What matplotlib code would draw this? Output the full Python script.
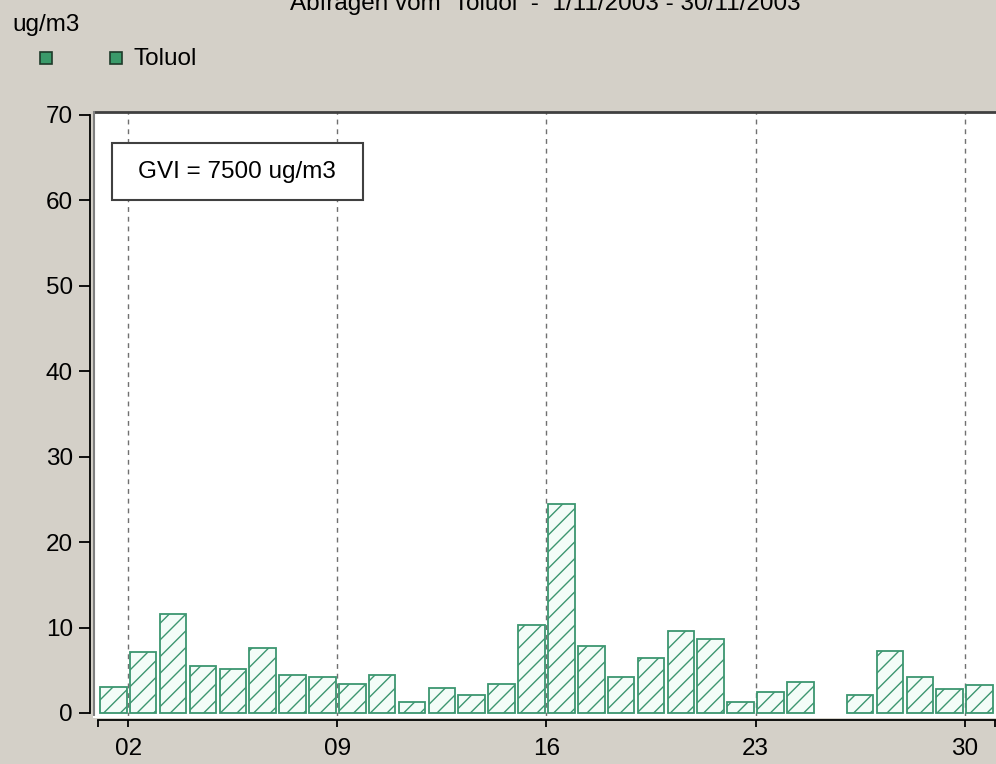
import numpy as np
import matplotlib.pyplot as plt
from matplotlib.patches import Rectangle
from matplotlib.lines import Line2D

plt.rcParams['font.family'] = ['Liberation Sans', 'DejaVu Sans']
plt.rcParams['hatch.linewidth'] = 1.0

# daily values, november 2003 (day 25 has no data)
days = np.arange(1, 31)
toluol = [3.1, 7.1, 11.6, 5.45, 5.2, 7.6, 4.5, 4.25, 3.35, 4.5,
          1.25, 2.9, 2.15, 3.35, 10.35, 24.5, 7.8, 4.25, 6.4, 9.65,
          8.7, 1.25, 2.4, 3.6, np.nan, 2.15, 7.3, 4.25, 2.85, 3.3]
series_name = "Toluol"
unit = "ug/m3"
title = "Abfragen vom  Toluol  -  1/11/2003 - 30/11/2003"
gvi_text = "GVI = 7500 ug/m3"
week_ticks = [2, 9, 16, 23, 30]
week_labels = ["02", "09", "16", "23", "30"]
y_ticks = [0, 10, 20, 30, 40, 50, 60, 70]

bg = '#D4D0C8'
green = '#3C9670'
W, H = 996, 764
fs = 17.5

fig = plt.figure(figsize=(W/100, H/100), dpi=100, facecolor=bg)
ax = fig.add_axes([94/W, 47/H, 902/W, 605/H])
ax.set_facecolor('white')

vals = np.array(toluol, dtype=float)
ok = ~np.isnan(vals)
ax.bar(days[ok] + 0.5, vals[ok], width=0.89, facecolor='#F3FCF8',
       edgecolor=green, linewidth=1.3, hatch='//', zorder=3)

ax.set_xlim(0.853, 31.05)
ax.set_ylim(-0.47, 70.35)

# weekly dashed grid
ax.set_xticks(week_ticks)
ax.set_xticklabels(week_labels)
ax.set_xticks([1, 31], minor=True)
ax.grid(axis='x', which='major', color='#707070', linestyle=(0, (3.5, 3.5)),
        linewidth=1.0, zorder=1)
ax.set_yticks(y_ticks)

for s in ['top', 'right']:
    ax.spines[s].set_visible(False)
ax.spines['left'].set_position(('outward', 3))
ax.spines['bottom'].set_position(('outward', 2.2))
ax.spines['left'].set_bounds(0, 70)
ax.spines['bottom'].set_bounds(1, 31.05)
for s in ['left', 'bottom']:
    ax.spines[s].set_linewidth(1.3)
    ax.spines[s].set_color('black')

ax.tick_params(axis='y', length=8, width=1.3, pad=4.3, labelsize=fs)
ax.tick_params(axis='x', which='both', length=5, width=1.3, pad=8,
               labelsize=fs)

# sunken frame of the plot area
ax.add_line(Line2D([0, 1], [1, 1], transform=ax.transAxes, color='#404040',
                   linewidth=2, clip_on=False, zorder=5))
ax.add_line(Line2D([0, 0], [0, 1], transform=ax.transAxes, color='#808080',
                   linewidth=1.5, clip_on=False, zorder=5))
ax.add_line(Line2D([0, 1], [0, 0], transform=ax.transAxes, color='white',
                   linewidth=1.5, clip_on=False, zorder=5))

# GVI box
fig.patches.append(Rectangle((112/W, 1 - 200/H), 251/W, 57/H,
                             transform=fig.transFigure, facecolor='white',
                             edgecolor='#404040', linewidth=1.5, zorder=6))
fig.add_artist(Line2D([114/W, 361/W], [1 - 197.5/H, 1 - 197.5/H],
                      transform=fig.transFigure, color='#A8A8A8', lw=1.2))
fig.add_artist(Line2D([360.5/W, 360.5/W], [1 - 197.5/H, 1 - 145/H],
                      transform=fig.transFigure, color='#A8A8A8', lw=1.2))
fig.text(237/W, 1 - 172/H, gvi_text, ha='center', va='center', fontsize=fs,
         zorder=7)

# title (cut at top like the original), unit and legend
fig.text(545/W, 1 - 10/H, title, ha='center', va='baseline', fontsize=fs)
fig.text(12/W, 1 - 31/H, unit, ha='left', va='baseline', fontsize=fs)
for cx in [46, 116]:
    fig.patches.append(Rectangle(((cx - 6)/W, 1 - 64/H), 12/W, 12/H,
                                 transform=fig.transFigure,
                                 facecolor='#3A9A6A', edgecolor='#1E3A2A',
                                 linewidth=1.2))
fig.text(133/W, 1 - 65/H, series_name, ha='left', va='baseline', fontsize=fs)

fig.savefig('out.png', dpi=100, facecolor=bg)
